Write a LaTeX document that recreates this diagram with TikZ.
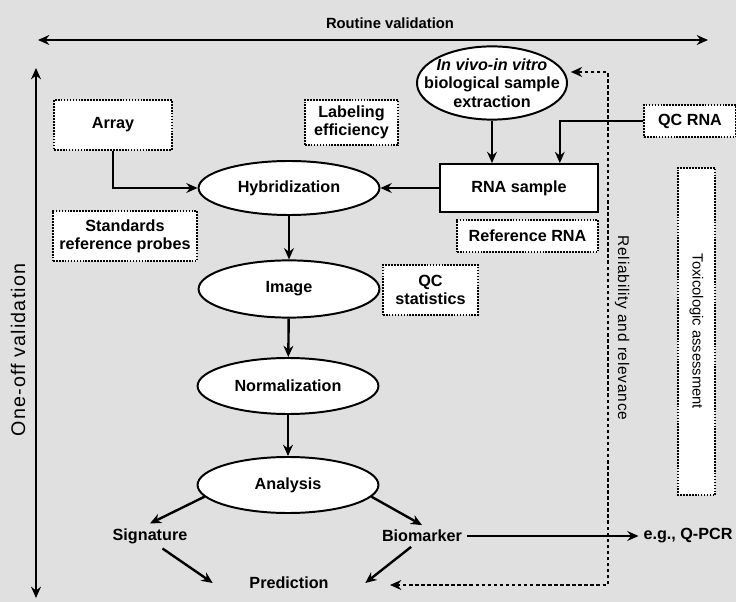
\documentclass[tikz,border=0pt]{standalone}
\usepackage{fontspec}
\setmainfont{Liberation Sans}
\usetikzlibrary{shapes.geometric,arrows.meta}

\tikzset{
  lbl/.style={font=\fontsize{11.5}{13}\selectfont\bfseries, align=center},
  plainbox/.style={lbl, draw, line width=1.3pt, fill=white, inner sep=0pt},
  dotbox/.style={lbl, draw, line width=1.3pt, dash pattern=on 1.2pt off 0.9pt, fill=white, inner sep=0pt},
  stage/.style={lbl, ellipse, draw, line width=1.4pt, fill=white, inner sep=0pt,
    minimum width=4.52cm, minimum height=1.4cm},
  flow/.style={->, line width=1.7pt},
  feedback/.style={<->, line width=1.3pt, dash pattern=on 2.5pt off 1.8pt},
  axis/.style={<->, line width=1.4pt},
  sidetext/.style={font=\fontsize{11}{13}\selectfont\addfontfeature{LetterSpace=5}},
}

\begin{document}
\begin{tikzpicture}[x=0.025cm, y=-0.025cm, >={Stealth[length=8pt,width=7pt]}]
\useasboundingbox (0,0) rectangle (736,602);
\fill[black!12] (0,0) rectangle (736,602);

% validation axes
\coordinate (rvleft) at (38,40);
\coordinate (rvright) at (708,40);
\coordinate (ovtop) at (36,68);
\coordinate (ovbot) at (36,598);
\draw[axis] (rvleft) -- (rvright);
\draw[axis] (ovtop) -- (ovbot);
\node[font=\fontsize{10.5}{12}\selectfont\bfseries] (routine) at (390,23) {Routine validation};
\node[font=\fontsize{14}{16}\selectfont\addfontfeature{LetterSpace=6}, rotate=90] (oneoff) at (18,350) {One-off validation};

% sample side
\node[ellipse, draw, line width=1.4pt, fill=white, minimum width=3.75cm, minimum height=1.83cm] (ext) at (492,83) {};
\node[lbl] (exttext) at (ext) {\textit{In vivo-in vitro}\\biological sample\\extraction};
\node[dotbox, minimum width=2.3cm, minimum height=0.8cm] (qcrna) at (690,121) {QC RNA};
\node[plainbox, minimum width=3.95cm, minimum height=1.2cm] (rna) at (519,188) {RNA sample};
\node[dotbox, minimum width=3.53cm, minimum height=0.8cm] (refrna) at (527.5,236) {Reference RNA};

% main flow
\node[dotbox, minimum width=2.95cm, minimum height=1.25cm] (array) at (113,125) {Array};
\node[dotbox, minimum width=2.33cm, minimum height=1.13cm] (labeling) at (351.5,122.5) {Labeling\\efficiency};
\node[stage, minimum height=1.35cm] (hyb) at (289,188) {Hybridization};
\node[dotbox, minimum width=3.6cm, minimum height=1.25cm] (probes) at (125,236) {Standards\\reference probes};
\node[stage, minimum height=1.43cm] (image) at (289,289) {Image};
\node[dotbox, minimum width=2.38cm, minimum height=1.25cm] (qcstat) at (430.5,290) {QC\\statistics};
\node[stage] (norm) at (288,386) {Normalization};
\node[stage] (analysis) at (288,485) {Analysis};
\node[lbl] (signature) at (150,536) {Signature};
\node[lbl] (biomarker) at (422,536) {Biomarker};
\node[lbl, minimum width=3.8cm] (prediction) at (289,583) {Prediction};
\node[lbl] (qpcr) at (688,536) {e.g., Q-PCR};

% reliability and toxicology
\node[sidetext, rotate=-90] (reliab) at (622,328) {Reliability and relevance};
\node[dotbox, rotate=-90, minimum width=8.18cm, minimum height=0.93cm,
  font=\fontsize{10.5}{12}\selectfont] (tox) at (696.5,331.5) {Toxicologic assessment};

\draw[flow] (ext.south) -- (ext.south |- rna.north);
\draw[flow] (qcrna.west) -| ([xshift=1.02cm]rna.north);
\draw[flow] (rna.west) -- (hyb.east);
\draw[flow] (array.south) |- (hyb.west);
\draw[flow] (hyb) -- (image);
\draw[flow] (image) -- (norm);
\draw[flow] (norm) -- (analysis);
\draw[flow] (analysis.188) -- (signature.north);
\draw[flow] (analysis.352) -- (biomarker.north);
\draw[flow] (signature.-45) -- (prediction.west);
\draw[flow] (biomarker.-135) -- (prediction.east);
\draw[flow] (biomarker) -- (qpcr);

% feedback loop
\coordinate (fbleft) at (390,585);
\coordinate (fbcorner) at (608,72);
\draw[feedback] (fbleft) -| (fbcorner) -- ([xshift=2pt]ext.east |- fbcorner);
\end{tikzpicture}
\end{document}
